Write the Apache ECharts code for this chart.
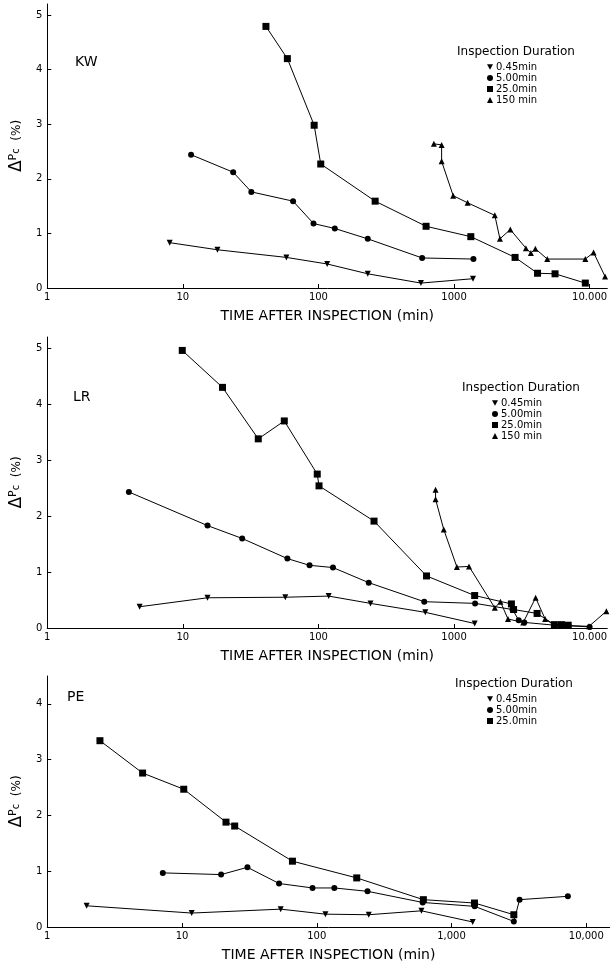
<!DOCTYPE html>
<html><head><meta charset="utf-8">
<script src="https://cdn.jsdelivr.net/npm/echarts@6/dist/echarts.min.js"></script>
<style>html,body{margin:0;padding:0;background:#fff}#c{width:610px;height:964px}</style>
</head><body><div id="c"></div>
<script>
// ---------- DATA ----------
// KW panel
const kwT045 = [8, 18, 58, 116, 231, 570, 1380];
const kwV045 = [0.83, 0.70, 0.56, 0.44, 0.26, 0.09, 0.17];
const kwT500 = [11.5, 23.5, 32, 65, 92, 132, 231, 582, 1390];
const kwV500 = [2.44, 2.12, 1.76, 1.59, 1.18, 1.09, 0.90, 0.55, 0.53];
const kwT250 = [41, 59, 93, 104, 262, 622, 1330, 2820, 4130, 5560, 9300];
const kwV250 = [4.79, 4.20, 2.98, 2.27, 1.59, 1.13, 0.94, 0.56, 0.27, 0.26, 0.09];
const kwT150 = [710, 810, 810, 986, 1260, 2000, 2180, 2600, 3390, 3690, 3980, 4870, 9300, 10700, 13000];
const kwV150 = [2.64, 2.62, 2.32, 1.69, 1.56, 1.33, 0.90, 1.07, 0.73, 0.64, 0.72, 0.53, 0.53, 0.65, 0.21];
// LR panel
const lrT045 = [4.8, 15.2, 57, 119, 242, 614, 1420];
const lrV045 = [0.38, 0.54, 0.55, 0.57, 0.44, 0.28, 0.08];
const lrT500 = [4.0, 15.2, 27.4, 59, 86, 128, 235, 603, 1430, 2700, 3000, 3300, 5500, 7000, 10000];
const lrV500 = [2.43, 1.83, 1.60, 1.24, 1.12, 1.08, 0.81, 0.47, 0.44, 0.33, 0.14, 0.10, 0.05, 0.04, 0.02];
const lrT250 = [9.9, 19.6, 36, 56, 98, 101, 257, 627, 1420, 2650, 2750, 4100, 5500, 6200, 6950];
const lrV250 = [4.96, 4.30, 3.38, 3.70, 2.75, 2.54, 1.91, 0.93, 0.58, 0.43, 0.33, 0.26, 0.06, 0.06, 0.05];
const lrT150 = [731, 731, 840, 1050, 1290, 2000, 2200, 2500, 3240, 4000, 4700, 5500, 9900, 13300];
const lrV150 = [2.47, 2.30, 1.76, 1.09, 1.10, 0.36, 0.47, 0.16, 0.10, 0.54, 0.16, 0.05, 0.03, 0.30];
// PE panel
const peT045 = [1.96, 11.8, 54, 116, 243, 598, 1436];
const peV045 = [0.38, 0.25, 0.32, 0.23, 0.22, 0.29, 0.09];
const peT500 = [7.2, 19.5, 30.6, 52.5, 93, 135, 238, 611, 1485, 2900, 3200, 7300];
const peV500 = [0.97, 0.94, 1.07, 0.78, 0.70, 0.70, 0.64, 0.44, 0.37, 0.10, 0.49, 0.55];
const peT250 = [2.46, 5.1, 10.3, 21.2, 24.6, 66, 198, 618, 1480, 2900];
const peV250 = [3.34, 2.76, 2.47, 1.88, 1.81, 1.18, 0.88, 0.49, 0.43, 0.22];
// tick labels
const xTicksKW = ['1', '10', '100', '1000', '10.000'];
const xTicksLR = ['1', '10', '100', '1000', '10.000'];
const xTicksPE = ['1', '10', '100', '1,000', '10,000'];
const panelNames = ['KW', 'LR', 'PE'];
const durations = ['0.45min', '5.00min', '25.0min', '150 min'];
const legendTitle = 'Inspection Duration';
const xTitle = 'TIME AFTER INSPECTION (min)';

// ---------- BUILD ----------
const zip = (t, v) => t.map((x, i) => [x, v[i]]);
const FONT = 'DejaVu Sans';
const downTri = 'path://M0,0 L10,0 L5,9 Z';
const symbolOf = {'0.45min': ['triangle', 180, 6], '5.00min': ['circle', 0, 6], '25.0min': ['rect', 0, 7], '150 min': ['triangle', 0, 6]};
const iconOf = {'0.45min': downTri, '5.00min': 'circle', '25.0min': 'rect', '150 min': 'triangle'};

const grids = [
  {left: 44, top: 4, width: 566, height: 284},
  {left: 44, top: 337, width: 566, height: 291},
  {left: 39, top: 676, width: 571, height: 251}
];
const yMax = [5.2, 5.2, 4.5];
const xMax = [13500, 13500, 15000];
const xTickSets = [xTicksKW, xTicksLR, xTicksPE];

function mkSeries(name, gi, t, v) {
  const s = symbolOf[name];
  return {name: name, type: 'line', xAxisIndex: gi, yAxisIndex: gi, data: zip(t, v),
    symbol: s[0], symbolRotate: s[1], symbolSize: s[2], showAllSymbol: true,
    lineStyle: {color: '#000', width: 1}, itemStyle: {color: '#000'},
    emphasis: {disabled: true}, animation: false};
}

const series = [
  mkSeries('0.45min', 0, kwT045, kwV045), mkSeries('5.00min', 0, kwT500, kwV500),
  mkSeries('25.0min', 0, kwT250, kwV250), mkSeries('150 min', 0, kwT150, kwV150),
  mkSeries('0.45min', 1, lrT045, lrV045), mkSeries('5.00min', 1, lrT500, lrV500),
  mkSeries('25.0min', 1, lrT250, lrV250), mkSeries('150 min', 1, lrT150, lrV150),
  mkSeries('0.45min', 2, peT045, peV045), mkSeries('5.00min', 2, peT500, peV500),
  mkSeries('25.0min', 2, peT250, peV250)
];

const xAxis = grids.map((g, i) => ({
  type: 'log', logBase: 10, gridIndex: i, min: 1, max: xMax[i],
  name: xTitle, nameLocation: 'middle', nameGap: 21,
  nameTextStyle: {fontFamily: FONT, fontSize: 14, color: '#000'},
  axisLine: {lineStyle: {color: '#000', width: 1}},
  axisTick: {inside: true, length: 4, lineStyle: {color: '#000'}},
  splitLine: {show: false}, minorTick: {show: false},
  axisLabel: {color: '#000', fontFamily: FONT, fontSize: 10, margin: 4, showMaxLabel: false,
    formatter: function (v) { const k = Math.round(Math.log10(v)); return Math.abs(Math.log10(v) - k) < 1e-6 ? (xTickSets[i][k] || '') : ''; }}
}));

const yAxis = grids.map((g, i) => ({
  type: 'value', gridIndex: i, min: 0, max: yMax[i], interval: 1,
  name: '{d|Δ}{p|P}{c|c}  {u|(%)}', nameLocation: 'middle', nameRotate: 90, nameGap: 22,
  nameTextStyle: {color: '#000', fontFamily: FONT,
    rich: {d: {fontSize: 17, fontFamily: FONT}, p: {fontSize: 11, fontFamily: FONT, padding: [0, 0, 6, 0]},
           c: {fontSize: 10, fontFamily: FONT, padding: [0, 0, 0, 0]}, u: {fontSize: 12, fontFamily: FONT}}},
  axisLine: {show: true, lineStyle: {color: '#000', width: 1}},
  axisTick: {show: true, inside: true, length: 4, lineStyle: {color: '#000'}},
  splitLine: {show: false},
  axisLabel: {color: '#000', fontFamily: FONT, fontSize: 10, margin: 5, showMaxLabel: false,
    formatter: function (v) { return Math.abs(v - Math.round(v)) < 1e-6 ? String(Math.round(v)) : ''; }}
}));

const legendTops = [57, 393, 689];
const legendLefts = [482, 487, 482];
const legends = legendTops.map((t, i) => ({
  left: legendLefts[i], top: t, orient: 'vertical', itemGap: 1, itemWidth: 6, itemHeight: 6,
  selectedMode: false,
  textStyle: {fontFamily: FONT, fontSize: 10, color: '#000', padding: [0, 0, 0, -2]},
  data: (i === 2 ? durations.slice(0, 3) : durations).map(n => ({name: n, icon: iconOf[n]}))
}));

const panelLabelPos = [[70, 50], [68, 385], [62, 685]];
const legendTitlePos = [[452, 41], [457, 377], [450, 673]];
const titles = [];
panelNames.forEach((n, i) => titles.push({text: n, left: panelLabelPos[i][0], top: panelLabelPos[i][1],
  textStyle: {fontFamily: FONT, fontSize: 14, fontWeight: 'normal', color: '#000'}}));
legendTitlePos.forEach(p => titles.push({text: legendTitle, left: p[0], top: p[1],
  textStyle: {fontFamily: FONT, fontSize: 12, fontWeight: 'normal', color: '#000'}}));

const chart = echarts.init(document.getElementById('c'), null, {renderer: 'canvas'});
chart.setOption({
  backgroundColor: '#fff', animation: false,
  title: titles, grid: grids, xAxis: xAxis, yAxis: yAxis, legend: legends, series: series
});
</script></body></html>
